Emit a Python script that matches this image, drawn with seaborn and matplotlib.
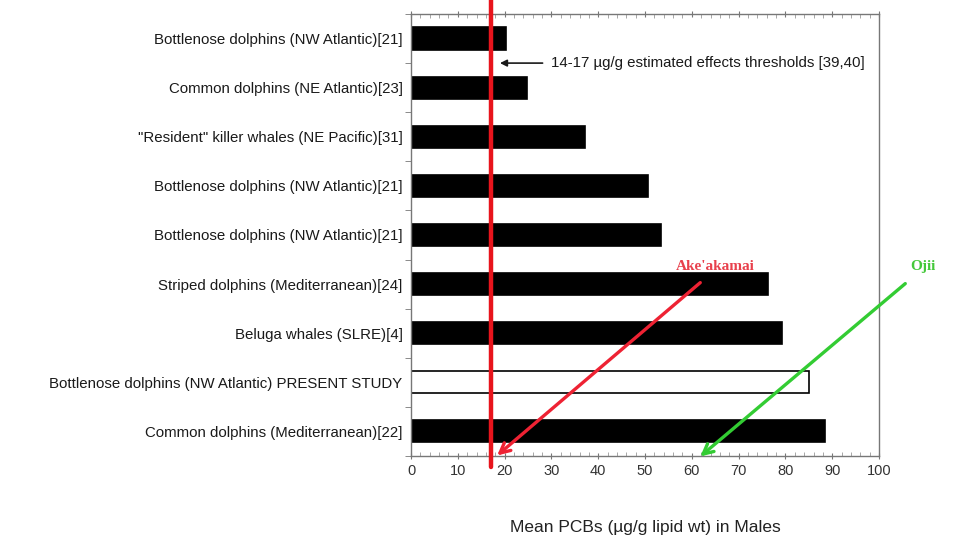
import numpy as np
import pandas as pd
import matplotlib
matplotlib.use('Agg')
import matplotlib.pyplot as plt
import seaborn as sns
from matplotlib.ticker import MultipleLocator, FixedLocator

# data
labels = [
    'Bottlenose dolphins (NW Atlantic)[21]',
    'Common dolphins (NE Atlantic)[23]',
    '"Resident" killer whales (NE Pacific)[31]',
    'Bottlenose dolphins (NW Atlantic)[21]',
    'Bottlenose dolphins (NW Atlantic)[21]',
    'Striped dolphins (Mediterranean)[24]',
    'Beluga whales (SLRE)[4]',
    'Bottlenose dolphins (NW Atlantic) PRESENT STUDY',
    'Common dolphins (Mediterranean)[22]',
]
pcb_means = [20.2, 24.8, 37.2, 50.6, 53.4, 76.2, 79.2, 85.0, 88.5]
present_study = 'Bottlenose dolphins (NW Atlantic) PRESENT STUDY'
threshold = 17
x_ticks = list(range(0, 101, 10))

# some labels repeat, so key the rows by position
df = pd.DataFrame({'row': [str(i) for i in range(len(labels))],
                   'group': labels, 'pcb': pcb_means})

sns.set_style('white')
plt.rcParams['font.family'] = ['Liberation Sans', 'DejaVu Sans']

fig = plt.figure(figsize=(9.8, 5.42), dpi=100)
ax = fig.add_axes([0.4194, 0.1587, 0.4776, 0.8155])

colors = ['white' if g == present_study else 'black' for g in labels]
sns.barplot(data=df, x='pcb', y='row', hue='row', palette=colors,
            legend=False, orient='h', width=0.45, edgecolor='black',
            linewidth=1.2, ax=ax)

ax.set_xlim(0, 100)
ax.set_ylim(8.5, -0.5)
ax.set_yticks(range(len(labels)))
ax.set_yticklabels(labels)
ax.set_xticks(x_ticks)
ax.xaxis.set_minor_locator(MultipleLocator(2))
ax.yaxis.set_minor_locator(FixedLocator(np.arange(-0.5, 9, 1)))
ax.tick_params(axis='y', which='major', length=0, labelsize=10.8, pad=6,
               labelcolor='#1a1a1a')
ax.tick_params(axis='y', which='minor', length=4, direction='out',
               color='#777777', left=True)
ax.tick_params(axis='x', which='major', length=5, direction='inout',
               color='#777777', labelsize=10.5, labelcolor='#333333',
               top=True, bottom=True)
ax.tick_params(axis='x', which='minor', length=3, direction='in',
               color='#999999', top=True, bottom=True)
for s in ax.spines.values():
    s.set_color('#777777')
    s.set_linewidth(1.0)

ax.set_ylabel('')
ax.set_xlabel('Mean PCBs (\u00b5g/g lipid wt) in Males', fontsize=12.5,
              color='#222222', labelpad=30)

# threshold line, runs past the frame
ax.axvline(threshold, ymin=-0.025, ymax=1.035, color='#e8141c', lw=3.2,
           clip_on=False, zorder=5)

ax.annotate('14-17 \u00b5g/g estimated effects thresholds [39,40]',
            xy=(19, 0.5), xytext=(30, 0.5), va='center', ha='left',
            fontsize=10.8, color='#1a1a1a',
            arrowprops=dict(arrowstyle='-|>', color='#1a1a1a', lw=1.2,
                            mutation_scale=10, shrinkA=4, shrinkB=0))

# dolphin arrows
ax.annotate('', xy=(18.4, 8.49), xytext=(61.8, 4.97), annotation_clip=False,
            arrowprops=dict(arrowstyle='->', color='#ee2233', lw=2.4,
                            mutation_scale=18, shrinkA=0, shrinkB=0))
ax.annotate('', xy=(61.8, 8.51), xytext=(105.6, 4.99), annotation_clip=False,
            arrowprops=dict(arrowstyle='->', color='#33cc33', lw=2.4,
                            mutation_scale=18, shrinkA=0, shrinkB=0))
ax.text(65, 4.64, "Ake'akamai", color='#e8404c', fontsize=11,
        fontweight='bold', family=['Liberation Serif', 'DejaVu Serif'],
        ha='center', va='center')
ax.text(109.3, 4.64, 'Ojii', color='#44c83a', fontsize=11,
        fontweight='bold', family=['Liberation Serif', 'DejaVu Serif'],
        ha='center', va='center', clip_on=False)

fig.savefig('out.png', dpi=100, facecolor='white')
plt.close(fig)
